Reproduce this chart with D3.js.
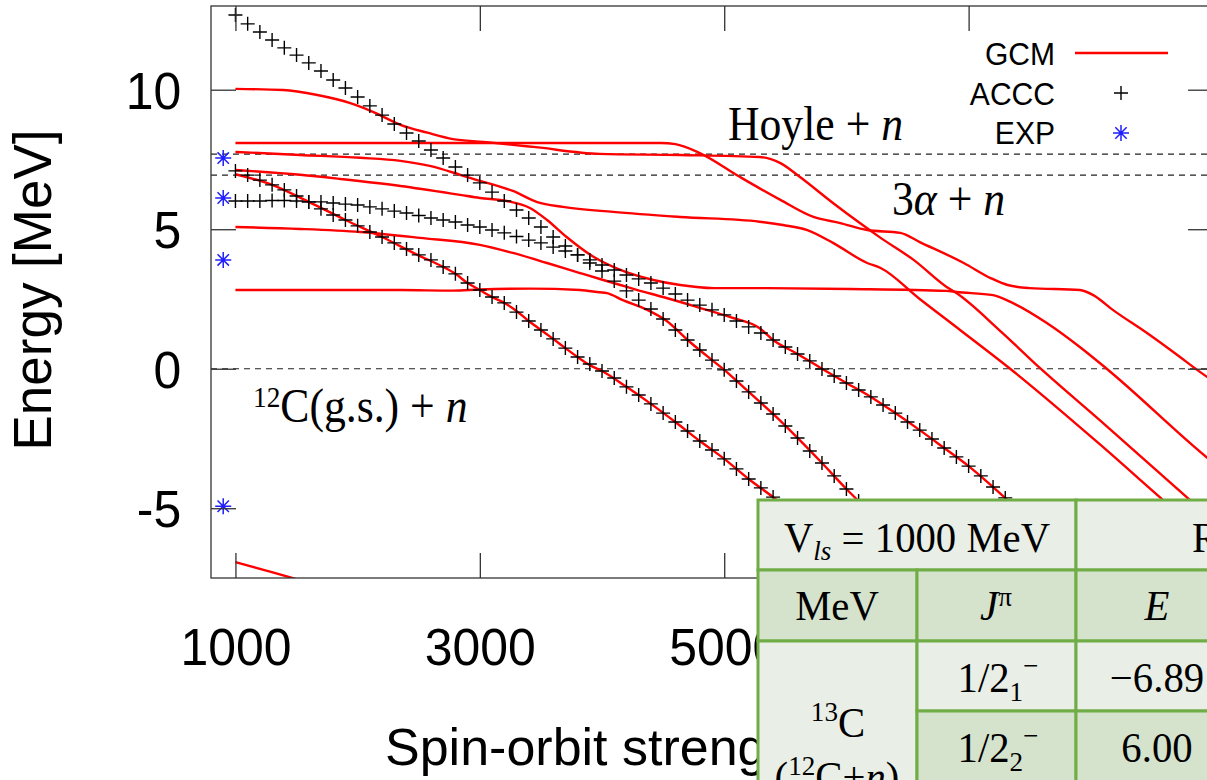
<!DOCTYPE html>
<html>
<head>
<meta charset="utf-8">
<script src="https://cdn.jsdelivr.net/npm/d3@7"></script>
<style>
  body { margin: 0; background: #fff; }
  svg { display: block; }
  text { font-family: "Liberation Sans", Arial, Helvetica, sans-serif; fill: #000; }
  .serif { font-family: "Liberation Serif", "Times New Roman", serif; }
</style>
</head>
<body>
<svg id="chart" width="1207" height="780"></svg>
<script>
// axis ticks
var xTicks = [1000, 3000, 5000, 7000, 9000];
var yTicks = [-5, 0, 5, 10];

// thresholds (MeV): 12C(g.s.)+n, 3alpha+n, Hoyle+n
var thresholds = [0, 6.94, 7.69];

// experiment, drawn at Vls = 900
var expV = 900;
var expE = [7.55, 6.12, 3.90, -4.93];

// GCM curves, [Vls, E]
var gcmA = [[1000,10.03],[1390,9.99],[1670,9.81],[1940,9.52],[2130,9.20],[2350,8.74],[2570,8.46],[2780,8.23],[3030,8.13],[3440,7.95],[3980,7.70],[4640,7.66],[5290,7.59],[5460,7.37],[5620,6.87],[5890,5.94],[6110,5.22],[6280,4.69],[6550,3.90],[6820,2.93],[6900,2.71],[7260,1.35],[7590,0.0],[8080,-1.87],[8810,-4.70],[9000,-5.43]];
var gcmB = [[1000,8.09],[2000,8.09],[3000,8.09],[4000,8.09],[4480,8.09],[4600,8.05],[4800,7.73],[5130,6.87],[5460,6.05],[5730,5.44],[5950,5.22],[6170,4.97],[6440,4.87],[6600,4.54],[6960,3.79],[7180,3.25],[7320,3.00],[7500,2.89],[7910,2.82],[8020,2.64],[8180,2.11],[8460,1.28],[8730,0.42],[8870,-0.04],[9000,-0.44]];
var gcmC = [[1000,7.77],[1530,7.66],[2020,7.56],[2350,7.45],[2590,7.27],[2840,6.95],[3000,6.73],[3170,6.52],[3270,6.37],[3470,5.97],[3680,5.80],[4090,5.62],[4640,5.44],[5290,5.27],[5480,5.15],[5680,4.97],[5890,4.51],[6170,3.79],[6280,3.61],[6600,2.50],[6930,1.39],[7340,0.0],[8080,-2.73],[8590,-4.70],[9000,-6.25]];
var gcmD = [[1000,7.12],[1530,6.95],[1860,6.80],[2350,6.55],[2840,6.23],[3000,6.12],[3220,6.01],[3410,5.76],[3550,5.33],[3710,4.72],[3930,4.01],[4150,3.54],[4420,3.18],[4640,3.00],[4910,2.89],[5290,2.89],[6030,2.86],[6820,2.79],[6900,2.75],[7200,2.64],[7360,2.36],[7640,1.64],[7910,0.78],[8130,0.0],[8950,-3.18],[9000,-3.36]];
var gcmE = [[1000,5.08],[1530,5.01],[2020,4.90],[2510,4.69],[3000,4.44],[3270,4.15],[3550,3.79],[3820,3.43],[4010,3.18],[4150,3.00],[4290,2.82],[4500,2.57],[4780,2.21],[5050,1.85],[5290,1.45],[5400,1.03],[5600,0.53],[5800,0.0],[6000,-0.51],[6200,-1.01],[6400,-1.59],[6600,-2.20],[6800,-2.84],[7000,-3.49],[7200,-4.24],[7400,-5.03],[7600,-5.82],[7800,-6.60],[8000,-7.39],[8080,-7.72]];
var gcmF = [[1000,2.82],[1530,2.82],[2350,2.82],[2780,2.80],[3000,2.84],[3410,2.87],[3820,2.82],[3980,2.74],[4040,2.71],[4170,2.46],[4370,2.11],[4530,1.71],[4700,1.03],[4900,0.31],[5000,-0.04],[5200,-0.83],[5400,-1.62],[5600,-2.48],[5800,-3.38],[6000,-4.31],[6200,-5.17],[6400,-6.03],[6600,-6.89],[6800,-7.75]];
var gcmG = [[1000,6.97],[1300,6.59],[1600,5.98],[1900,5.33],[2200,4.72],[2490,4.08],[2700,3.65],[2800,3.40],[2900,3.07],[3000,2.82],[3100,2.57],[3200,2.36],[3300,2.07],[3400,1.71],[3500,1.39],[3600,1.07],[3700,0.74],[3800,0.42],[3900,0.13],[4000,-0.08],[4200,-0.65],[4400,-1.26],[4600,-1.91],[4800,-2.59],[5000,-3.23],[5200,-3.95],[5400,-4.60],[5600,-5.28],[5800,-5.99],[6000,-6.71],[6200,-7.43],[6300,-7.80]];
var gcmH = [[1000,-6.93],[1230,-7.21],[1450,-7.48],[1690,-7.79]];

// ACCC, one value every 100 MeV starting at 1000 MeV
var accStart = 1000;
var accStep = 100;
var acc1 = [12.68,12.36,12.07,11.78,11.50,11.24,10.96,10.67,10.35,10.06,
  9.74,9.42,9.09,8.77,8.45,8.16,7.84,7.55,7.23,6.94,
  6.66,6.33,6.01,5.69,5.40,5.08,4.72,4.40,4.08,3.79,
  3.50,3.14,2.79,2.46,2.14,1.78,1.39,1.03,0.67,0.31,
  -0.04,-0.44,-0.83,-1.23,-1.62,-2.05,-2.48,-2.95,-3.38,-3.84,
  -4.31,-4.74,-5.17,-5.60,-6.03,-6.46,-6.89,-7.32];
var acc2 = [6.01,6.01,6.01,6.03,6.03,6.01,5.98,5.98,5.94,5.90,
  5.87,5.80,5.73,5.65,5.58,5.49,5.40,5.33,5.26,5.15,
  5.08,4.97,4.87,4.74,4.61,4.51,4.36,4.22,4.08,3.90,
  3.72,3.54,3.36,3.22,3.07,2.89,2.68,2.46,2.28,2.11,
  1.93,1.71,1.50,1.28,1.03,0.78,0.53,0.28,-0.01,-0.26,
  -0.51,-0.76,-1.01,-1.30,-1.59,-1.91,-2.20,-2.52,-2.84,-3.16,
  -3.49,-3.84,-4.24,-4.63,-5.03,-5.42,-5.82,-6.21,-6.60,-7.00,-7.39];
var acc3 = [7.09,6.94,6.76,6.59,6.41,6.19,5.98,5.73,5.51,5.33,
  5.12,4.90,4.72,4.51,4.29,4.08,3.90,3.65,3.40,3.07,
  2.82,2.57,2.36,2.03,1.71,1.39,1.07,0.74,0.42,0.17,
  -0.08,-0.33,-0.65,-0.94,-1.26,-1.59,-1.91,-2.23,-2.59,-2.91,
  -3.23,-3.59,-3.95,-4.27,-4.60,-4.92,-5.28,-5.64,-5.99,-6.35,
  -6.71,-7.07,-7.43];

var legendNames = ['GCM', 'ACCC', 'EXP'];

// ---- drawing ----
var svg = d3.select('#chart');
var pLeft = 211, pRight = 1213, pTop = 6, pBottom = 578;

var x = d3.scaleLinear().domain([800, 9000]).range([pLeft, pRight]);
var y = d3.scaleLinear().domain([-7.5, 13]).range([pBottom, pTop]);

svg.append('clipPath').attr('id', 'clip')
  .append('rect').attr('x', pLeft).attr('y', pTop)
  .attr('width', pRight - pLeft).attr('height', pBottom - pTop);

var plot = svg.append('g').attr('clip-path', 'url(#clip)');

// dashed threshold lines
plot.selectAll('.thr').data(thresholds).enter().append('line')
  .attr('x1', pLeft).attr('x2', pRight)
  .attr('y1', d => y(d)).attr('y2', d => y(d))
  .attr('stroke', '#222').attr('stroke-width', 1.2)
  .attr('stroke-dasharray', '6,5');

var line = d3.line()
  .x(d => x(d[0]))
  .y(d => y(d[1]))
  .curve(d3.curveMonotoneX);

var gcm = [gcmA, gcmB, gcmC, gcmD, gcmE, gcmF, gcmG, gcmH];
plot.selectAll('.gcm').data(gcm).enter().append('path')
  .attr('d', line)
  .attr('fill', 'none')
  .attr('stroke', '#ff0000')
  .attr('stroke-width', 2.4);

var crossPath = 'M-7,0H7M0,-7V7';
var starPath = 'M-8,0H8M0,-8V8M-5.7,-5.7L5.7,5.7M-5.7,5.7L5.7,-5.7';

[acc1, acc2, acc3].forEach(function(series) {
  plot.selectAll(null).data(series).enter().append('path')
    .attr('d', crossPath)
    .attr('transform', (d, i) => 'translate(' + x(accStart + i * accStep) + ',' + y(d) + ')')
    .attr('fill', 'none')
    .attr('stroke', '#000')
    .attr('stroke-width', 1.4);
});

plot.selectAll('.exp').data(expE).enter().append('path')
  .attr('d', starPath)
  .attr('transform', d => 'translate(' + x(expV) + ',' + y(d) + ')')
  .attr('fill', 'none')
  .attr('stroke', '#1f1fff')
  .attr('stroke-width', 1.5);

// axes: ticks point inward on all four sides
function styleAxis(g) {
  g.select('.domain').remove();
  g.selectAll('line').attr('stroke', '#333').attr('stroke-width', 1.3);
}

var gx = svg.append('g').attr('transform', 'translate(0,' + pBottom + ')')
  .call(d3.axisBottom(x).tickValues(xTicks).tickSizeInner(-25).tickSizeOuter(0)
    .tickFormat(d => String(d)))
  .call(styleAxis);
gx.selectAll('text')
  .attr('y', 87).attr('dy', 0)
  .attr('font-size', 52)
  .attr('transform', 'scale(0.96,1)');

var gy = svg.append('g').attr('transform', 'translate(' + pLeft + ',0)')
  .call(d3.axisLeft(y).tickValues(yTicks).tickSizeInner(-25).tickSizeOuter(0)
    .tickFormat(d => String(d)))
  .call(styleAxis);
gy.selectAll('text')
  .attr('x', -31).attr('dy', '0.36em')
  .attr('font-size', 52)
  .attr('transform', 'scale(0.96,1)');

svg.append('g').attr('transform', 'translate(0,' + pTop + ')')
  .call(d3.axisTop(x).tickValues(xTicks).tickSizeInner(-25).tickSizeOuter(0).tickFormat(''))
  .call(styleAxis);
svg.append('g').attr('transform', 'translate(' + pRight + ',0)')
  .call(d3.axisRight(y).tickValues(yTicks).tickSizeInner(-25).tickSizeOuter(0).tickFormat(''))
  .call(styleAxis);

svg.append('rect')
  .attr('x', pLeft).attr('y', pTop)
  .attr('width', pRight - pLeft).attr('height', pBottom - pTop)
  .attr('fill', 'none').attr('stroke', '#333').attr('stroke-width', 1.3);

// axis titles
svg.append('text')
  .attr('transform', 'translate(51,290) rotate(-90)')
  .attr('text-anchor', 'middle')
  .attr('font-size', 53)
  .text('Energy [MeV]');

svg.append('text')
  .attr('transform', 'translate(385,765)')
  .attr('font-size', 52)
  .text('Spin-orbit strength [MeV]');

// legend
var lg = svg.append('g');
legendNames.forEach(function(name, i) {
  lg.append('text')
    .attr('transform', 'translate(1055,' + (65 + i * 39.5) + ') scale(0.97,1)')
    .attr('text-anchor', 'end')
    .attr('font-size', 31)
    .text(name);
});
lg.append('line').attr('x1', 1075).attr('x2', 1168).attr('y1', 53).attr('y2', 53)
  .attr('stroke', '#ff0000').attr('stroke-width', 2.4);
lg.append('path').attr('d', crossPath).attr('transform', 'translate(1121,93)')
  .attr('stroke', '#000').attr('stroke-width', 1.4);
lg.append('path').attr('d', starPath).attr('transform', 'translate(1121,133)')
  .attr('fill', 'none').attr('stroke', '#1f1fff').attr('stroke-width', 1.5);

// rich serif text helper
function rich(parent, px, py, parts, size, anchor, sx) {
  var t = parent.append('text')
    .attr('class', 'serif')
    .attr('text-anchor', anchor)
    .attr('font-size', size)
    .attr('transform', 'translate(' + px + ',' + py + ') scale(' + sx + ',1)');
  parts.forEach(function(p) {
    var s = t.append('tspan').text(p.t);
    if (p.it) s.attr('font-style', 'italic');
    if (p.size) s.attr('font-size', p.size);
    if (p.dy) s.attr('dy', p.dy);
  });
  return t;
}

// threshold annotations
rich(svg, 728, 140, [{t: 'Hoyle + '}, {t: 'n', it: true}], 48, 'start', 0.91);
rich(svg, 892, 215, [{t: '3'}, {t: 'α', it: true}, {t: ' + '}, {t: 'n', it: true}], 48, 'start', 0.91);
rich(svg, 253, 422, [{t: '12', size: 30, dy: -15}, {t: 'C(g.s.) + ', dy: 15}, {t: 'n', it: true}], 48, 'start', 0.91);

// overlaid table
var tg = svg.append('g');
var light = '#e9efe6', dark = '#d5e3cd', green = '#70ad47';
var cx = [758, 917, 1076, 1238, 1420];
var ry = [500, 570, 641, 711, 790];
var cells = [
  [0, 2, 0, 1, light], [2, 4, 0, 1, light],
  [0, 1, 1, 2, dark], [1, 2, 1, 2, dark], [2, 3, 1, 2, dark], [3, 4, 1, 2, dark],
  [0, 1, 2, 4, light], [1, 2, 2, 3, light], [2, 3, 2, 3, light], [3, 4, 2, 3, light],
  [1, 2, 3, 4, dark], [2, 3, 3, 4, dark], [3, 4, 3, 4, dark]
];
tg.selectAll('rect').data(cells).enter().append('rect')
  .attr('x', d => cx[d[0]]).attr('y', d => ry[d[2]])
  .attr('width', d => cx[d[1]] - cx[d[0]]).attr('height', d => ry[d[3]] - ry[d[2]])
  .attr('fill', d => d[4])
  .attr('stroke', green).attr('stroke-width', 3);

var ts = 42, tsx = 0.97, small = 28;
rich(tg, 917, 552, [{t: 'V'}, {t: 'ls', it: true, size: small, dy: 8}, {t: ' = 1000 MeV', dy: -8}], ts, 'middle', tsx);
rich(tg, 1192, 552, [{t: 'Ref.'}], ts, 'start', tsx);
rich(tg, 837, 620, [{t: 'MeV'}], ts, 'middle', tsx);
rich(tg, 996, 620, [{t: 'J', it: true}, {t: 'π', size: small, dy: -14}], ts, 'middle', tsx);
rich(tg, 1157, 620, [{t: 'E', it: true}], ts, 'middle', tsx);
rich(tg, 998, 692, [{t: '1/2'}, {t: '1', size: small, dy: 9}, {t: '−', size: small, dy: -26}], ts, 'middle', tsx);
rich(tg, 1157, 692, [{t: '−6.89'}], ts, 'middle', tsx);
rich(tg, 998, 762, [{t: '1/2'}, {t: '2', size: small, dy: 9}, {t: '−', size: small, dy: -26}], ts, 'middle', tsx);
rich(tg, 1157, 762, [{t: '6.00'}], ts, 'middle', tsx);
rich(tg, 838, 737, [{t: '13', size: small, dy: -16}, {t: 'C', dy: 16}], ts, 'middle', tsx);
rich(tg, 837, 791, [{t: '('}, {t: '12', size: small, dy: -16}, {t: 'C+', dy: 16}, {t: 'n', it: true}, {t: ')'}], ts, 'middle', tsx);
</script>
</body>
</html>
